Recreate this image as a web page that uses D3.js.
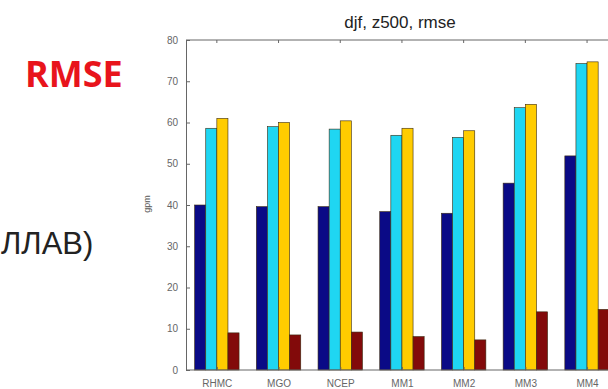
<!DOCTYPE html>
<html>
<head>
<meta charset="utf-8">
<script src="https://cdn.jsdelivr.net/npm/d3@7"></script>
<style>
  html, body { margin: 0; padding: 0; background: #fff; overflow: hidden; }
  svg { display: block; }
</style>
</head>
<body>
<svg id="chart"></svg>
<script>
// categories and the four bar series (gpm)
const models = ['RHMC', 'MGO', 'NCEP', 'MM1', 'MM2', 'MM3', 'MM4'];
const seriesA = [40.0, 39.6, 39.6, 38.4, 38.0, 45.3, 51.9];   // navy
const seriesB = [58.6, 59.0, 58.4, 56.9, 56.4, 63.6, 74.3];   // cyan
const seriesC = [61.0, 60.0, 60.4, 58.6, 58.0, 64.4, 74.7];   // gold
const seriesD = [9.0, 8.5, 9.2, 8.1, 7.3, 14.1, 14.7];        // dark red
const yTicks = [0, 10, 20, 30, 40, 50, 60, 70, 80];

const width = 608, height = 389;
const svg = d3.select('#chart')
  .attr('width', width)
  .attr('height', height);

// slide text around the chart
svg.append('text').attr('x', 25).attr('y', 87).text('RMSE')
  .style('font-family', '"Open Sans", sans-serif')
  .style('font-weight', 'bold')
  .style('font-size', '36px')
  .style('fill', '#e8141c');
svg.append('text').attr('x', 1).attr('y', 254).text('ЛЛАВ)')
  .style('font-family', '"Liberation Sans", Arial, sans-serif')
  .style('font-size', '31px')
  .style('fill', '#222');

/** AXES * */
const plotLeft = 186, plotTop = 40, plotBottom = 370;
const x = d3.scaleLinear().domain([0.5, 7.5]).range([plotLeft, plotLeft + 7 * 61.7]);
const y = d3.scaleLinear().domain([0, 80]).range([plotBottom, plotTop]);

const series = [
  { vals: seriesA, color: '#0a0a86' },
  { vals: seriesB, color: '#1fd6f2' },
  { vals: seriesC, color: '#ffcc00' },
  { vals: seriesD, color: '#820a0a' },
];
const barW = 0.18;

// bars
series.forEach((s, si) => {
  svg.append('g').selectAll('rect')
    .data(s.vals)
    .join('rect')
    .attr('x', (d, i) => x(i + 1 + (si - 1.5) * barW - barW / 2))
    .attr('y', (d) => y(d))
    .attr('width', x(barW) - x(0))
    .attr('height', (d) => plotBottom - y(d))
    .style('fill', s.color)
    .style('stroke', '#3a2a10')
    .style('stroke-width', 0.6);
});

// frame lines
svg.append('line').attr('x1', plotLeft).attr('x2', width).attr('y1', plotTop).attr('y2', plotTop)
  .style('stroke', '#666').style('stroke-width', 1);
svg.append('line').attr('x1', plotLeft).attr('x2', width).attr('y1', plotBottom).attr('y2', plotBottom)
  .style('stroke', '#666').style('stroke-width', 1);

svg.append('g')
  .attr('transform', `translate(${plotLeft},0)`)
  .call(d3.axisLeft(y).tickValues(yTicks).tickSize(-4).tickPadding(8))
  .call((g) => g.select('.domain').style('stroke', '#666'))
  .call((g) => g.selectAll('line').style('stroke', '#666'))
  .call((g) => g.selectAll('text')
    .style('font-family', '"Liberation Sans", Arial, sans-serif')
    .style('font-size', '10px')
    .style('fill', '#666'));

svg.append('g')
  .attr('transform', `translate(0,${plotBottom})`)
  .call(d3.axisBottom(x).tickValues(d3.range(1, 8)).tickSize(-3).tickPadding(10)
    .tickFormat((d) => models[d - 1]))
  .call((g) => g.select('.domain').remove())
  .call((g) => g.selectAll('line').style('stroke', '#666'))
  .call((g) => g.selectAll('text')
    .style('font-family', '"Liberation Sans", Arial, sans-serif')
    .style('font-size', '10px')
    .style('fill', '#666'));

// top ticks
svg.append('g').selectAll('line')
  .data(d3.range(1, 8))
  .join('line')
  .attr('x1', (d) => x(d)).attr('x2', (d) => x(d))
  .attr('y1', plotTop).attr('y2', plotTop + 3)
  .style('stroke', '#666');

// title and y label
svg.append('text').attr('x', 400).attr('y', 28).text('djf, z500, rmse')
  .attr('text-anchor', 'middle')
  .style('font-family', '"Liberation Sans", Arial, sans-serif')
  .style('font-size', '17px')
  .style('fill', '#222');
svg.append('text').text('gpm')
  .attr('transform', 'translate(150,204) rotate(-90)')
  .attr('text-anchor', 'middle')
  .style('font-family', '"Liberation Sans", Arial, sans-serif')
  .style('font-size', '9px')
  .style('fill', '#555');
</script>
</body>
</html>
